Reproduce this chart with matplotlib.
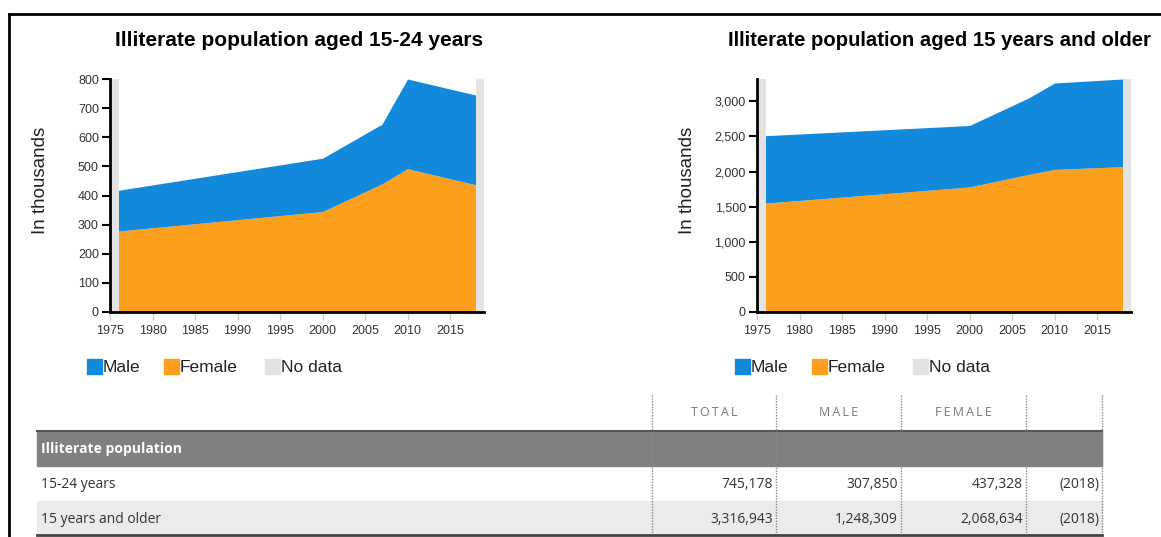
import matplotlib.pyplot as plt
from matplotlib.patches import Rectangle
from matplotlib.lines import Line2D
from matplotlib.ticker import FuncFormatter

# data
years = [1976, 2000, 2007, 2010, 2018]
youth_female = [278, 345, 440, 492, 437]
youth_male = [140, 183, 205, 308, 308]
adult_female = [1550, 1780, 1960, 2030, 2069]
adult_male = [960, 875, 1090, 1230, 1248]

no_data_spans = [(1975, 1976), (2018, 2019)]

table_cols = ['TOTAL', 'MALE', 'FEMALE']
table_rows = ['15-24 years', '15 years and older']
table_total = ['745,178', '3,316,943']
table_male = ['307,850', '1,248,309']
table_female = ['437,328', '2,068,634']
table_year = ['(2018)', '(2018)']

W, H = 1161, 537
BLUE = '#1389DB'
ORANGE = '#FB9F1D'
GREY = '#E3E3E3'

fig = plt.figure(figsize=(W / 100, H / 100), dpi=100)


def fx(px):
    return px / W


def fy(py):
    return 1 - py / H


def draw_chart(left, female, male, ymax, yticks, title, title_x, title_size, fmt):
    ax = fig.add_axes([fx(left), fy(312), fx(374), 233 / H])
    total = [f + m for f, m in zip(female, male)]
    for a, b in no_data_spans:
        ax.axvspan(a, b, color=GREY, lw=0)
    ax.fill_between(years, 0, female, color=ORANGE, lw=0)
    ax.fill_between(years, female, total, color=BLUE, lw=0)
    ax.set_xlim(1975, 2019)
    ax.set_ylim(0, ymax)
    ax.set_xticks(range(1975, 2016, 5))
    ax.set_yticks(yticks)
    ax.yaxis.set_major_formatter(FuncFormatter(fmt))
    for s in ['top', 'right']:
        ax.spines[s].set_visible(False)
    ax.spines['left'].set_linewidth(2)
    ax.spines['bottom'].set_linewidth(2)
    ax.tick_params(axis='y', length=6, width=1.5, color='black', labelsize=9,
                   labelcolor='#333333', pad=2)
    ax.tick_params(axis='x', length=6, width=1, color='#cccccc', labelsize=9,
                   labelcolor='#333333', pad=3)
    ax.set_ylabel('In thousands', fontsize=13.5, color='#222222')
    ax.yaxis.set_label_coords(-0.163, 0.567)
    fig.text(fx(title_x), fy(41), title, fontsize=title_size, fontweight='bold',
             ha='left', va='center', family='Liberation Sans')
    for lab in ax.get_xticklabels() + ax.get_yticklabels():
        lab.set_family('Liberation Sans')
    ax.yaxis.label.set_family('Liberation Sans')
    return ax


draw_chart(110, youth_female, youth_male, 800, range(0, 801, 100),
           'Illiterate population aged 15-24 years', 115, 15,
           lambda v, p: f'{int(v)}')
draw_chart(757, adult_female, adult_male,
           max(f + m for f, m in zip(adult_female, adult_male)),
           range(0, 3001, 500),
           'Illiterate population aged 15 years and older', 728, 14.6,
           lambda v, p: f'{int(v):,}')

# legends
for x0 in [87, 735]:
    items = [('Male', BLUE, 0), ('Female', ORANGE, 77), ('No data', GREY, 178)]
    for name, col, dx in items:
        fig.patches.append(Rectangle((fx(x0 + dx), fy(374)), fx(15), 15 / H,
                                     color=col, transform=fig.transFigure))
        fig.text(fx(x0 + dx + 16), fy(367), name, fontsize=12.5, va='center',
                 color='#222222', family='Liberation Sans')

# outer frame lines
fig.add_artist(Line2D([fx(9), 1], [fy(14), fy(14)], color='black', lw=2))
fig.add_artist(Line2D([fx(9), fx(9)], [fy(14), 0], color='black', lw=2))

# table
tf = ['Open Sans', 'DejaVu Sans']
fig.patches.append(Rectangle((fx(37), fy(466)), fx(1102 - 37), 35 / H,
                             color='#808080', transform=fig.transFigure))
fig.add_artist(Line2D([fx(37), fx(1102)], [fy(431), fy(431)], color='#555555', lw=1.5))
fig.text(fx(41), fy(453), 'Illiterate population', fontsize=10, fontweight='bold',
         color='white', va='baseline', family=tf)
fig.patches.append(Rectangle((fx(37), fy(535)), fx(1102 - 37), 34 / H,
                             color='#EBEBEB', transform=fig.transFigure))
fig.add_artist(Line2D([fx(37), fx(1102)], [fy(535), fy(535)], color='#444444', lw=2))

col_edges = [652, 776, 901, 1026, 1102]
for x in col_edges:
    fig.add_artist(Line2D([fx(x), fx(x)], [fy(395), fy(533)], color='#888888',
                          lw=1, linestyle=(0, (1, 1))))
for i, c in enumerate(table_cols):
    xc = (col_edges[i] + col_edges[i + 1]) / 2
    spaced = '\u2009'.join(c)
    fig.text(fx(xc), fy(416), spaced, fontsize=9, color='#777777',
             ha='center', va='baseline', family=tf)

row_y = [488, 523]
for r, name in enumerate(table_rows):
    y = fy(row_y[r])
    fig.text(fx(41), y, name, fontsize=10, color='#333333', va='baseline', family=tf)
    vals = [table_total[r], table_male[r], table_female[r], table_year[r]]
    for j, v in enumerate(vals):
        fig.text(fx(col_edges[j + 1] - 3), y, v, fontsize=10, color='#333333',
                 ha='right', va='baseline', family=tf)

fig.savefig('out.png', dpi=100)
